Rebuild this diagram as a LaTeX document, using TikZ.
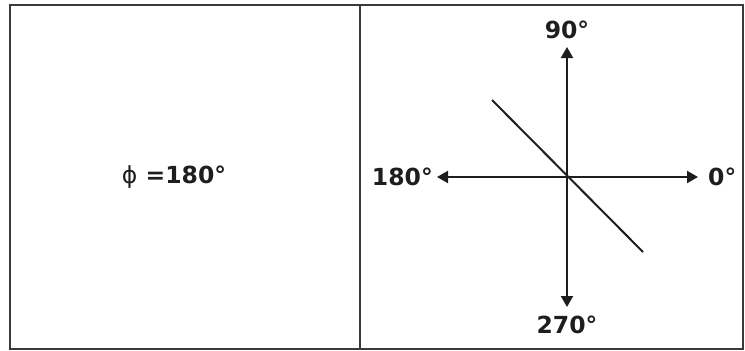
\documentclass[tikz,border=0pt]{standalone}
\usepackage{fontspec}
\setmainfont{DejaVu Sans}
\usetikzlibrary{arrows.meta}
\definecolor{ink}{HTML}{1E1E1E}
\definecolor{frame}{HTML}{3A3A3A}
\tikzset{
  lbl/.style={font=\bfseries\fontsize{23.5}{26}\selectfont, text=ink, inner sep=0pt},
  axis/.style={draw=ink, line width=2.2pt, -{Triangle[length=11pt,width=12pt]}},
  panel/.style={draw=frame, line width=2.2pt}
}
\begin{document}
\begin{tikzpicture}[x=1pt,y=-1pt]
\useasboundingbox (0,0) rectangle (745,351);
\draw[panel] (10,5) rectangle (743,349);
\draw[panel] (360,5) -- (360,349);
\node[lbl] (phi) at (174,177) {{\mdseries ϕ} =180°};
\coordinate (o) at (567,177);
\node[lbl] (t90) at (567,30) {90°};
\node[lbl] (t270) at (567,325) {270°};
\node[lbl, anchor=east] (t180) at (433,177) {180°};
\node[lbl, anchor=west] (t0) at (708,177) {0°};
\coordinate (up) at (567,47);
\coordinate (dn) at (567,307);
\coordinate (lf) at (437,177);
\coordinate (rt) at (698,177);
\draw[axis] (o) -- (up);
\draw[axis] (o) -- (dn);
\draw[axis] (o) -- (lf);
\draw[axis] (o) -- (rt);
\coordinate (d1) at (492,100);
\coordinate (d2) at (643,252);
\draw[draw=ink, line width=2pt] (d1) -- (d2);
\end{tikzpicture}
\end{document}
